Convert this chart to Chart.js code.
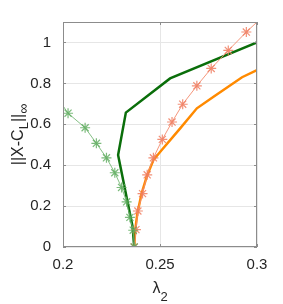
<!DOCTYPE html>
<html>
<head>
<meta charset="utf-8">
<script src="https://cdn.jsdelivr.net/npm/chart.js@4"></script>
<style>
  html, body { margin: 0; padding: 0; background: #fff; }
  #wrap { width: 283px; height: 304px; }
</style>
</head>
<body>
<div id="wrap"><canvas id="c"></canvas></div>
<script>
// light green, marked with stars (first point is where the line leaves the axes)
const greenStarX = [0.2, 0.2026, 0.2114, 0.2172, 0.2224, 0.2267, 0.2302, 0.2328, 0.2345, 0.2362, 0.2367];
const greenStarY = [0.69, 0.654, 0.583, 0.507, 0.436, 0.363, 0.291, 0.221, 0.145, 0.082, 0.0];
// salmon, marked with stars (last point is where the line leaves the axes)
const redStarX = [0.2367, 0.2376, 0.2386, 0.2410, 0.2434, 0.2466, 0.2512, 0.2562, 0.2617, 0.2690, 0.2764, 0.2852, 0.2945, 0.3];
const redStarY = [0.0, 0.085, 0.176, 0.261, 0.353, 0.436, 0.526, 0.611, 0.698, 0.788, 0.873, 0.961, 1.051, 1.1];
// dark green, thick
const darkGreenX = [0.2367, 0.2359, 0.2331, 0.2284, 0.2324, 0.2552, 0.3];
const darkGreenY = [0.0, 0.098, 0.229, 0.45, 0.657, 0.824, 1.0];
// orange, thick
const orangeX = [0.2367, 0.2372, 0.2383, 0.2405, 0.2431, 0.2466, 0.2509, 0.2604, 0.2690, 0.2776, 0.2923, 0.2997];
const orangeY = [0.0, 0.08, 0.163, 0.261, 0.343, 0.425, 0.474, 0.580, 0.678, 0.735, 0.830, 0.863];

const xTicks = [0.2, 0.25, 0.3];
const yTicks = [0, 0.2, 0.4, 0.6, 0.8, 1];

const pts = (xs, ys) => xs.map((x, i) => ({x: x, y: ys[i]}));
const fmt = v => String(+(+v).toFixed(2));
const FONT = "'Liberation Sans', Arial, Helvetica, sans-serif";

const frame = {
    id: 'frame',
    afterDraw(chart) {
        const {ctx, chartArea: a, scales} = chart;
        ctx.save();
        ctx.strokeStyle = '#8c8c8c';
        ctx.lineWidth = 1;
        ctx.strokeRect(Math.round(a.left) + 0.5, Math.round(a.top) + 0.5,
            Math.round(a.right - a.left) - 1, Math.round(a.bottom - a.top) - 1);
        // inward ticks
        ctx.beginPath();
        xTicks.forEach(v => {
            const px = Math.round(scales.x.getPixelForValue(v)) + 0.5;
            ctx.moveTo(px, a.bottom); ctx.lineTo(px, a.bottom - 3);
            ctx.moveTo(px, a.top); ctx.lineTo(px, a.top + 3);
        });
        yTicks.forEach(v => {
            const py = Math.round(scales.y.getPixelForValue(v)) + 0.5;
            ctx.moveTo(a.left, py); ctx.lineTo(a.left + 3, py);
            ctx.moveTo(a.right, py); ctx.lineTo(a.right - 3, py);
        });
        ctx.stroke();

        // axis titles with subscripts
        ctx.fillStyle = '#262626';
        ctx.textBaseline = 'alphabetic';
        // x: lambda_2
        ctx.font = '16px ' + FONT;
        const lw = ctx.measureText('λ').width;
        ctx.font = '13px ' + FONT;
        const sw = ctx.measureText('2').width;
        let x0 = (a.left + a.right) / 2 - (lw + sw) / 2;
        ctx.font = '16px ' + FONT;
        ctx.fillText('λ', x0, 293);
        ctx.font = '13px ' + FONT;
        ctx.fillText('2', x0 + lw, 301);

        // y: ||X-C_L||_inf
        const parts = [['||X-C', 16, 0], ['L', 13, 5], ['||', 16, 0], ['∞', 14, 5]];
        let total = 0;
        parts.forEach(p => { ctx.font = p[1] + 'px ' + FONT; p.push(ctx.measureText(p[0]).width); total += p[3]; });
        ctx.translate(23, (a.top + a.bottom) / 2);
        ctx.rotate(-Math.PI / 2);
        let cx = -total / 2;
        parts.forEach(p => {
            ctx.font = p[1] + 'px ' + FONT;
            ctx.fillText(p[0], cx, p[2]);
            cx += p[3];
        });
        ctx.restore();
    }
};

new Chart(document.getElementById('c'), {
    type: 'scatter',
    data: {
        datasets: [
            {
                data: pts(greenStarX, greenStarY),
                showLine: true,
                borderColor: 'rgba(110,180,110,0.85)',
                borderWidth: 1,
                pointStyle: 'star',
                pointRadius: greenStarX.map((v, i) => i === 0 ? 0 : 5),
                pointBorderWidth: 1.2,
                pointBorderColor: 'rgba(90,170,90,0.8)',
                pointBackgroundColor: 'rgba(90,170,90,0.8)',
                clip: 0
            },
            {
                data: pts(redStarX, redStarY),
                showLine: true,
                borderColor: 'rgba(244,140,110,0.9)',
                borderWidth: 1,
                pointStyle: 'star',
                pointRadius: redStarX.map((v, i) => i === redStarX.length - 1 ? 0 : 5),
                pointBorderWidth: 1.2,
                pointBorderColor: 'rgba(240,125,95,0.85)',
                pointBackgroundColor: 'rgba(240,125,95,0.85)',
                clip: 0
            },
            {
                data: pts(darkGreenX, darkGreenY),
                showLine: true,
                borderColor: '#0a6e0a',
                borderWidth: 2.5,
                pointRadius: 0,
                clip: 0
            },
            {
                data: pts(orangeX, orangeY),
                showLine: true,
                borderColor: '#ff8a00',
                borderWidth: 2.5,
                pointRadius: 0,
                clip: 0
            }
        ]
    },
    options: {
        responsive: true,
        maintainAspectRatio: false,
        animation: false,
        events: [],
        layout: {padding: {left: 0, right: 26, top: 22, bottom: 0}},
        plugins: {legend: {display: false}, tooltip: {enabled: false}},
        scales: {
            x: {
                type: 'linear',
                min: 0.2,
                max: 0.3,
                afterBuildTicks: s => { s.ticks = xTicks.map(v => ({value: v})); },
                afterFit: s => { s.height = 57; },
                grid: {color: '#e6e6e6', drawTicks: false},
                border: {display: false},
                ticks: {padding: 9, color: '#262626', font: {family: FONT, size: 15}, callback: fmt, maxRotation: 0}
            },
            y: {
                type: 'linear',
                min: 0,
                max: 1.1,
                afterBuildTicks: s => { s.ticks = yTicks.map(v => ({value: v})); },
                afterFit: s => { s.width = 63; },
                grid: {color: '#e6e6e6', drawTicks: false},
                border: {display: false},
                ticks: {padding: 12, color: '#262626', font: {family: FONT, size: 15}, callback: fmt}
            }
        }
    },
    plugins: [frame]
});
</script>
</body>
</html>
